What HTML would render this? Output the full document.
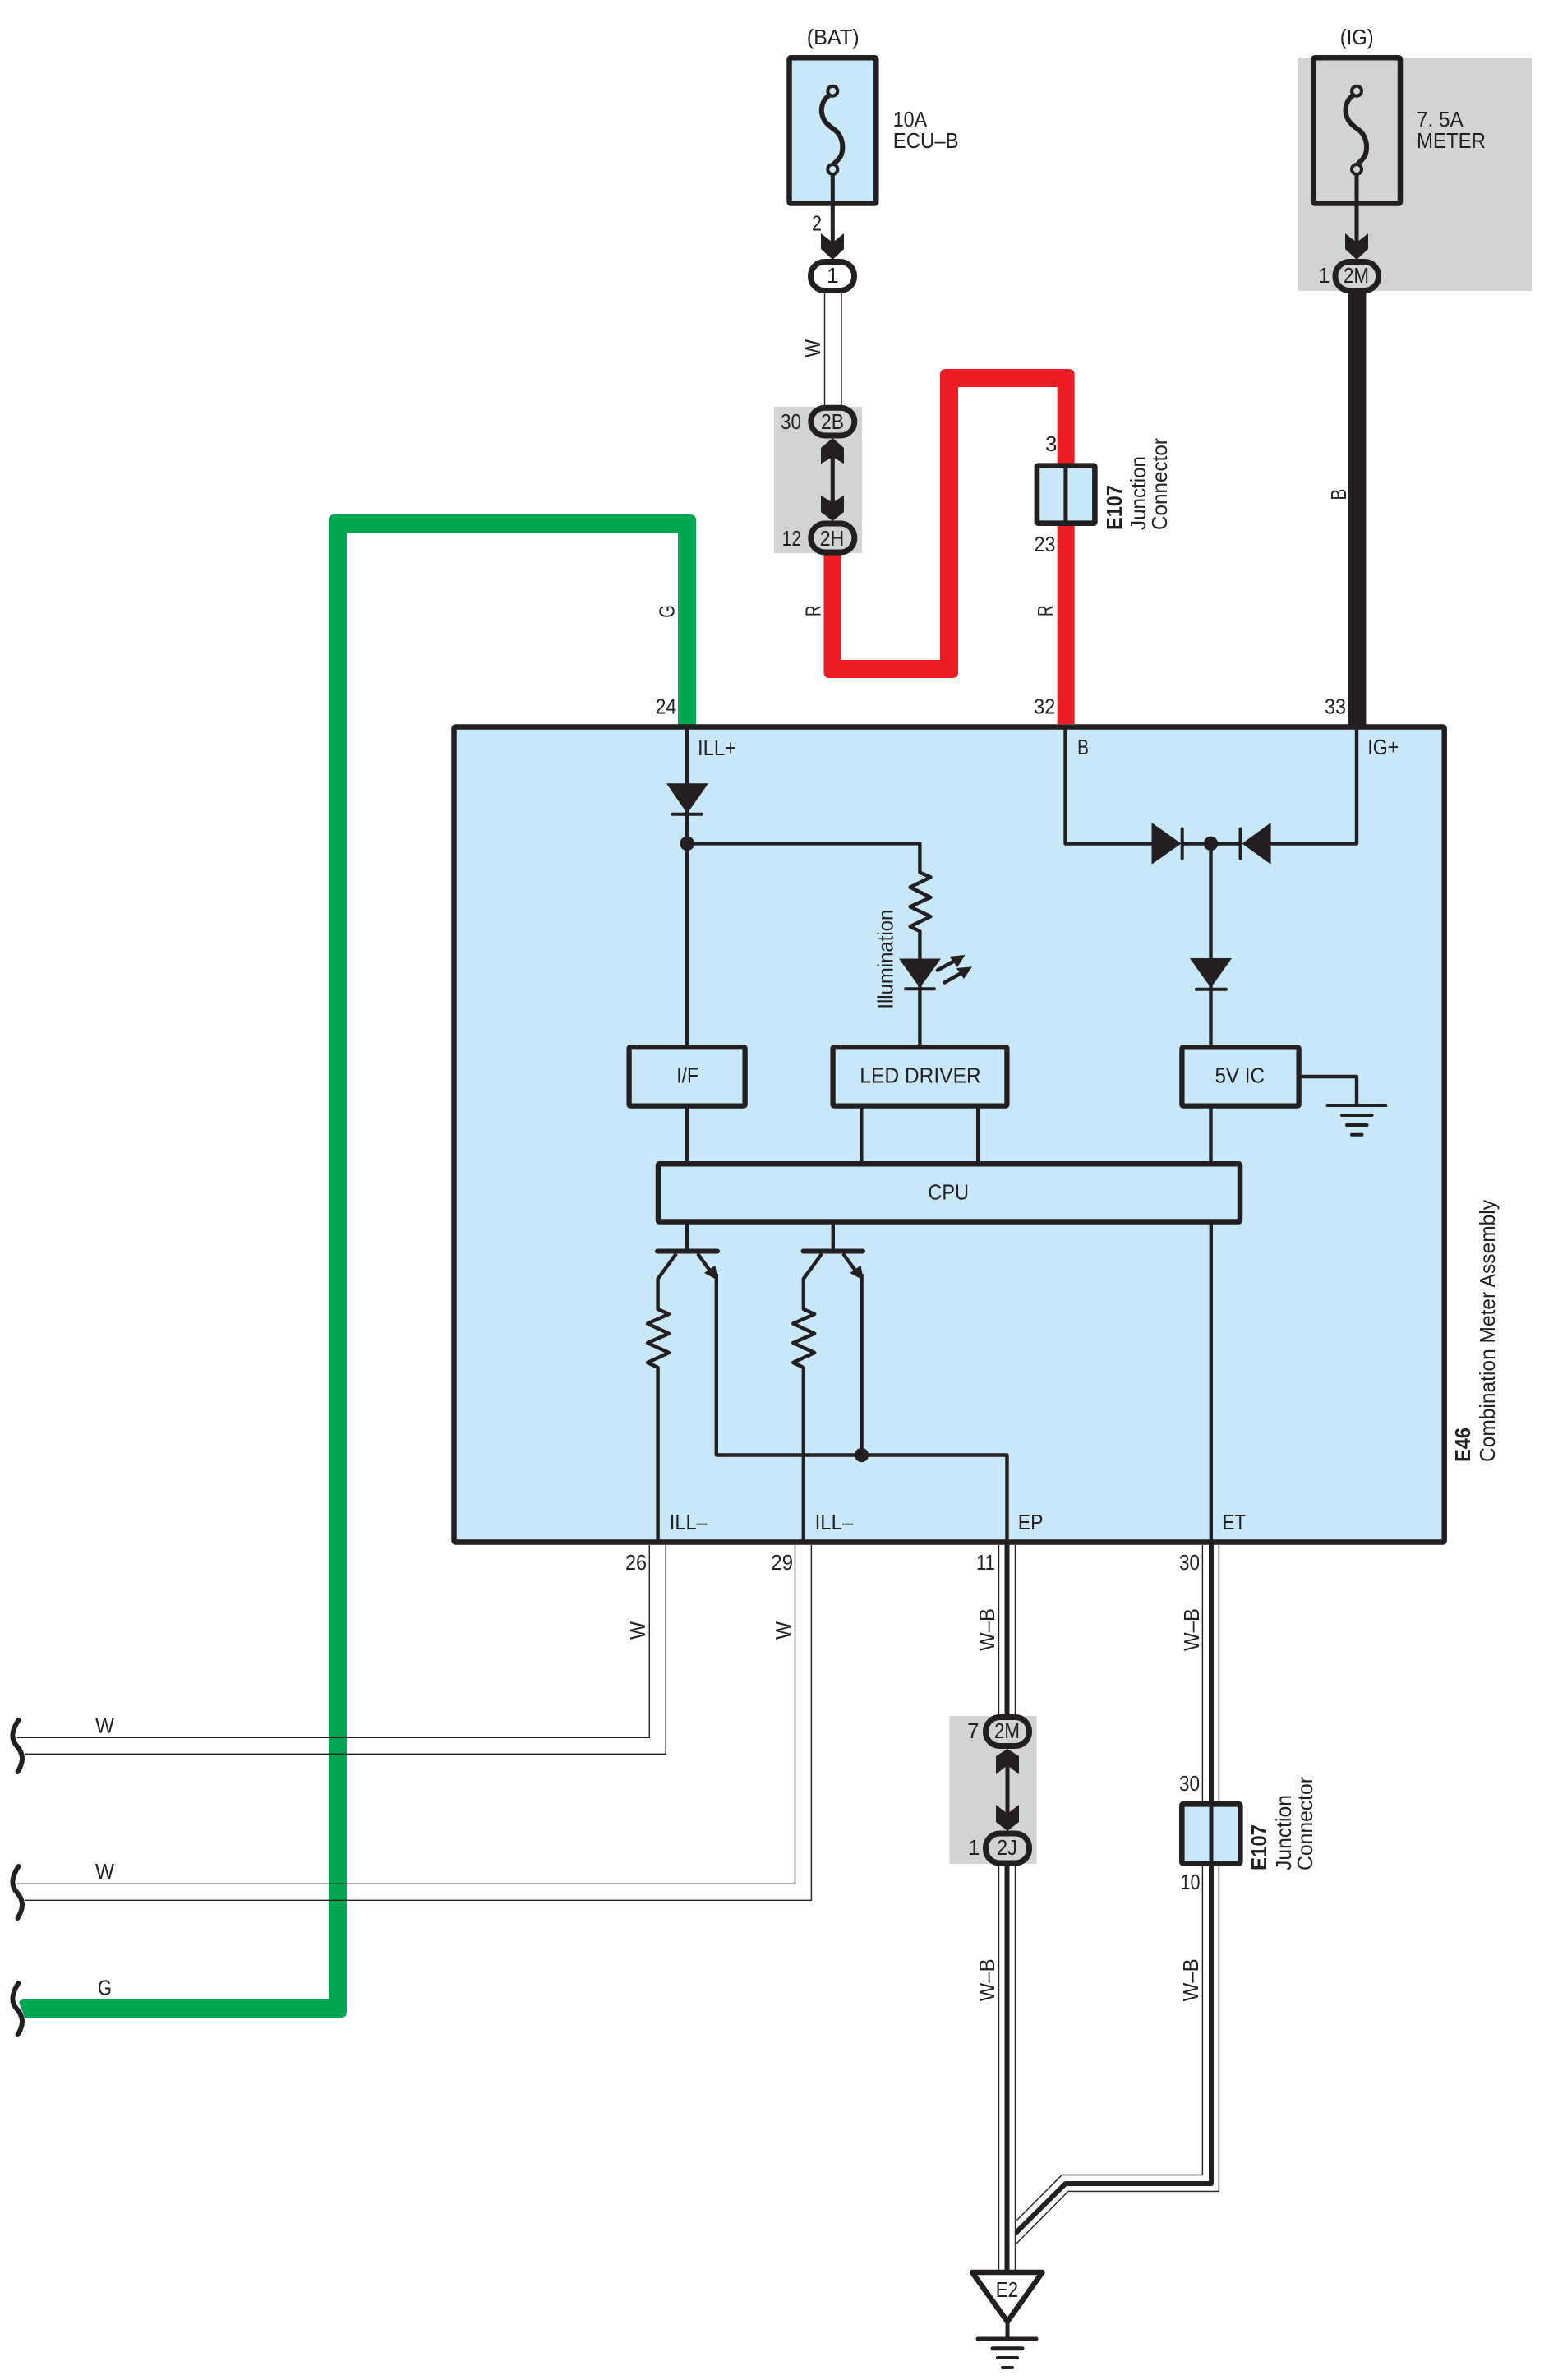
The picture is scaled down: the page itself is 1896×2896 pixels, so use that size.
<!DOCTYPE html>
<html lang="en">
<head>
<meta charset="utf-8">
<title>Combination Meter Assembly wiring diagram</title>
<style>
html,body{margin:0;padding:0;background:#fff;width:1896px;height:2896px;overflow:hidden}
svg{display:block}
text{font-family:"Liberation Sans",sans-serif;font-size:26px;fill:#231f20}
.b{font-weight:bold}
.m{text-anchor:middle}
</style>
</head>
<body>
<svg xmlns="http://www.w3.org/2000/svg" width="1896" height="2896" viewBox="0 0 1896 2896">
<defs>
<clipPath id="cb"><rect x="1237" y="2260" width="300" height="500"/></clipPath>
</defs>
<rect width="1896" height="2896" fill="#fff"/>

<!-- grey areas -->
<rect x="1580" y="70" width="284" height="284" fill="#d1d3d4"/>
<rect x="942" y="495" width="107" height="178" fill="#d1d3d4"/>
<rect x="1155.5" y="2088" width="106" height="180" fill="#d1d3d4"/>

<!-- coloured wires -->
<path fill="#00a651" d="M23,2436Q25,2433 29,2433H400V633Q400,626 407,626H840Q847,626 847,633V882H825V648H422V2448Q422,2455 415,2455H30Z"/>
<path fill="#ed1c24" d="M1002.5,670V818Q1002.5,825 1009.5,825H1159Q1166,825 1166,818V471H1286.7V881H1307.6V456Q1307.6,449 1300.6,449H1151Q1144,449 1144,456V803H1024V670Z"/>
<rect x="1640.5" y="350" width="21.9" height="532" fill="#231f20"/>

<!-- main box -->
<rect x="552.5" y="884.5" width="1205.2" height="992" rx="2" fill="#c8e8fa" stroke="#231f20" stroke-width="6.5"/>

<!-- thin wires -->
<g fill="none" stroke="#231f20" stroke-width="1.4">
<path d="M1003.5,355V495M1024,355V495"/>
<path d="M790.3,1880V2114.3H20.7M810.2,1880V2134.3H30"/>
<path d="M967.5,1880V2292.3H20.7M987.4,1880V2312.3H30"/>
<path d="M1215.5,1880V2090M1235.5,1880V2090M1215.5,2268V2762M1235.5,2268V2762"/>
<path d="M1463.4,1880V2195M1483.4,1880V2195"/>
<path d="M1463.4,2268V2646.5H1292.3L1237,2702M1483.4,2268V2666.4H1300L1237,2730"/>
</g>
<path d="M1474,2268V2657H1296.7L1225,2728" fill="none" stroke="#231f20" stroke-width="6" stroke-linejoin="round" clip-path="url(#cb)"/>
<path d="M1225.5,1876V2095M1225.5,2265V2765M1474,1876V2195" fill="none" stroke="#231f20" stroke-width="6"/>

<!-- fuses -->
<g fill="none" stroke="#231f20">
<rect x="960.5" y="70.2" width="105.8" height="177.3" rx="2" fill="#c8e8fa" stroke-width="6.5"/>
<path stroke-width="6" d="M1009,116C1000,122 997,135 1003,146C1008,154 1014,156 1018,160C1025,167 1027,178 1024,188C1022,194 1014,199 1013,202"/>
<circle cx="1013.3" cy="110.7" r="6" stroke-width="4" fill="#c8e8fa"/>
<circle cx="1013.3" cy="206" r="6" stroke-width="4" fill="#c8e8fa"/>
<path stroke-width="5" d="M1013.3,212V296"/>
</g>
<g fill="none" stroke="#231f20" transform="translate(637.7,0)">
<rect x="960.5" y="70.2" width="105.8" height="177.3" rx="2" fill="#d1d3d4" stroke-width="6.5"/>
<path stroke-width="6" d="M1009,116C1000,122 997,135 1003,146C1008,154 1014,156 1018,160C1025,167 1027,178 1024,188C1022,194 1014,199 1013,202"/>
<circle cx="1013.3" cy="110.7" r="6" stroke-width="4" fill="#d1d3d4"/>
<circle cx="1013.3" cy="206" r="6" stroke-width="4" fill="#d1d3d4"/>
<path stroke-width="5" d="M1013.3,212V296"/>
</g>

<!-- chevrons -->
<g fill="#231f20">
<polygon points="999,284 1013.3,295 1027,284 1027,303 1013.3,316 999,303"/>
<polygon points="1637,284 1651,295 1665,284 1665,303 1651,316 1637,303"/>
<polygon points="1013.3,533 1027,545 1027,564.3 1013.3,556 999,564.3 999,545"/>
<polygon points="1013.3,634 1027,623 1027,602.7 1013.3,611.7 999,602.7 999,623"/>
<polygon points="1226,2128 1240,2137 1240,2159 1226,2148 1212,2159 1212,2137"/>
<polygon points="1226,2228 1240,2217 1240,2196 1226,2207 1212,2196 1212,2217"/>
</g>
<path d="M1013.3,550V615M1226,2145V2210" stroke="#231f20" stroke-width="5" fill="none"/>

<!-- pills -->
<g stroke="#231f20" stroke-width="7">
<rect x="986.5" y="318.5" width="53" height="35" rx="17" fill="#fff"/>
<rect x="1625" y="318.5" width="52.5" height="35" rx="17" fill="#d1d3d4"/>
<rect x="986.8" y="496.2" width="53" height="33.8" rx="16.9" fill="#d1d3d4"/>
<rect x="986.8" y="637" width="53" height="35" rx="17" fill="#d1d3d4"/>
<rect x="1199.5" y="2089.5" width="53" height="35" rx="17" fill="#d1d3d4"/>
<rect x="1199.5" y="2231" width="53" height="36" rx="17" fill="#d1d3d4"/>
</g>

<!-- junction connectors -->
<g stroke="#231f20" fill="#c8e8fa">
<rect x="1261.9" y="566.7" width="70.5" height="70" rx="1.5" stroke-width="6.6"/>
<rect x="1438.3" y="2195.3" width="71" height="72" rx="1.5" stroke-width="6.6"/>
<path d="M1296.9,565V640" stroke-width="5" fill="none"/>
<path d="M1474,2192V2270" stroke-width="5" fill="none"/>
</g>

<!-- internal wiring -->
<g fill="none" stroke="#231f20" stroke-width="4.4" stroke-linejoin="round">
<path d="M836.2,884V1272M836.2,1346V1415"/>
<path d="M836.2,1026.4H1119.4V1061.6L1132.5,1067.4L1107.6,1079.6L1132.5,1091.9L1107.6,1103.3L1132.5,1115.2L1107.6,1127.4L1119.4,1133.2V1274"/>
<path d="M1048.3,1348V1415M1190.2,1348V1415"/>
<path d="M1296.5,884V1026.5H1402M1651,884V1026.5H1546M1438,1026.5H1510"/>
<path d="M1473.5,1026V1274M1473.5,1346V1415M1473.8,1486V1876"/>
<path d="M1583,1310H1651V1345"/>
<path d="M836.2,1488V1522M1013.8,1488V1522"/>
<path d="M823,1525.5L800.6,1556V1593L814,1599L788,1610.5L814,1622.7L788,1634L814,1646L788,1658L800.6,1664V1876"/>
<path d="M1000.2,1525.5L977.8,1556V1593L991.2,1599L965.2,1610.5L991.2,1622.7L965.2,1634L991.2,1646L965.2,1658L977.8,1664V1876"/>
<path d="M849,1525.5L869,1553M1026,1525.5L1046,1553"/>
<path d="M871.8,1550V1770.5H1225.5V1876M1048.6,1550V1770.5"/>
</g>
<g stroke="#231f20" stroke-linecap="round" fill="none">
<path stroke-width="6" d="M800,1522.5H873M977.5,1522.5H1050"/>
<path stroke-width="4" d="M818,990.8H854M1102,1203.2H1137M1456,1203.7H1492M1438.7,1008.5V1044.5M1509.5,1008.5V1044.5"/>
<path stroke-width="4" d="M1615.5,1345H1686.5M1633,1357H1669.5M1639,1369H1663.5M1645,1380.7H1657.5"/>
<path stroke-width="4.5" d="M1141,1180.5L1160,1170M1149.5,1195.5L1168,1185"/>
</g>
<g fill="#231f20">
<polygon points="811,953.3 862,953.3 836.2,990"/>
<polygon points="1094,1166.5 1145,1166.5 1119.4,1202"/>
<polygon points="1447.9,1166 1499,1166 1473.5,1202"/>
<polygon points="1401.5,1001 1401.5,1051.7 1437.5,1026.5"/>
<polygon points="1546.6,1001 1546.6,1051.7 1511.4,1026.5"/>
<polygon points="1174.5,1162 1155.4,1164 1165,1177"/>
<polygon points="1183,1176.4 1163.9,1178 1173,1191"/>
<polygon points="857,1549 870.3,1539.7 873.9,1558"/>
<polygon points="1034.2,1549 1047.5,1539.7 1051,1558"/>
<circle cx="836.2" cy="1026.4" r="8.8"/>
<circle cx="1473.5" cy="1026.5" r="8.7"/>
<circle cx="1048.6" cy="1770.5" r="8.6"/>
</g>

<!-- internal boxes -->
<g fill="#c8e8fa" stroke="#231f20" stroke-width="6.3">
<rect x="765.6" y="1274.2" width="141" height="71.4" rx="1.5"/>
<rect x="1013.6" y="1274.2" width="211.8" height="71.4" rx="1.5"/>
<rect x="1438.4" y="1274.4" width="142.2" height="71.2" rx="1.5"/>
<rect x="801" y="1416.3" width="708" height="70.2" rx="1.5" stroke-width="6.5"/>
</g>

<!-- break marks -->
<g fill="none" stroke="#231f20" stroke-width="6" stroke-linecap="round">
<path d="M22.5,2093C14,2106 13,2116 20,2124C28,2133 30,2142 21.5,2156"/>
<path d="M22.5,2271C14,2284 13,2294 20,2302C28,2311 30,2320 21.5,2334"/>
<path d="M22.5,2413C14,2426 13,2436 20,2444C28,2453 30,2462 21.5,2476"/>
</g>

<!-- E2 ground -->
<polygon points="1183,2765 1268.5,2765 1226,2825" fill="#fff" stroke="#231f20" stroke-width="6.5" stroke-linejoin="round"/>
<g fill="none" stroke="#231f20" stroke-linecap="round">
<path stroke-width="5" d="M1226,2827V2846"/>
<path stroke-width="5" d="M1190,2846H1261M1208,2857.7H1244"/>
<path stroke-width="4" d="M1214,2869H1238M1220,2881H1232"/>
</g>

<!-- labels -->
<text x="981.7" y="54" textLength="64" lengthAdjust="spacingAndGlyphs">(BAT)</text>
<text x="1630.7" y="54" textLength="41" lengthAdjust="spacingAndGlyphs">(IG)</text>
<text x="1086.7" y="154" textLength="41.5" lengthAdjust="spacingAndGlyphs">10A</text>
<text x="1086.7" y="180" textLength="80" lengthAdjust="spacingAndGlyphs">ECU–B</text>
<text x="1724" y="154" textLength="56.7" lengthAdjust="spacingAndGlyphs">7. 5A</text>
<text x="1724" y="180" textLength="84" lengthAdjust="spacingAndGlyphs">METER</text>
<text x="988" y="280.7" textLength="12" lengthAdjust="spacingAndGlyphs">2</text>
<text x="1013.3" y="344" class="m">1</text>
<text x="1604" y="344">1</text>
<text x="1635" y="344" textLength="31" lengthAdjust="spacingAndGlyphs">2M</text>
<text x="950" y="522" textLength="25" lengthAdjust="spacingAndGlyphs">30</text>
<text x="999" y="522" textLength="28" lengthAdjust="spacingAndGlyphs">2B</text>
<text x="951.7" y="664" textLength="23.3" lengthAdjust="spacingAndGlyphs">12</text>
<text x="997.7" y="664" textLength="29.6" lengthAdjust="spacingAndGlyphs">2H</text>
<text x="1272" y="549">3</text>
<text x="1258.6" y="671" textLength="25.7" lengthAdjust="spacingAndGlyphs">23</text>
<text x="797.6" y="868.6" textLength="25.6" lengthAdjust="spacingAndGlyphs">24</text>
<text x="1258" y="868.6" textLength="26.4" lengthAdjust="spacingAndGlyphs">32</text>
<text x="1612" y="868.6" textLength="26" lengthAdjust="spacingAndGlyphs">33</text>
<text x="849" y="919" textLength="47" lengthAdjust="spacingAndGlyphs">ILL+</text>
<text x="1311" y="918" textLength="14" lengthAdjust="spacingAndGlyphs">B</text>
<text x="1664.3" y="918" textLength="38" lengthAdjust="spacingAndGlyphs">IG+</text>
<text x="823.2" y="1317.7" textLength="26.8" lengthAdjust="spacingAndGlyphs">I/F</text>
<text x="1046.3" y="1317.7" textLength="147.4" lengthAdjust="spacingAndGlyphs">LED DRIVER</text>
<text x="1478.5" y="1317.7" textLength="60.5" lengthAdjust="spacingAndGlyphs">5V IC</text>
<text x="1129.4" y="1459.3" textLength="49.6" lengthAdjust="spacingAndGlyphs">CPU</text>
<text x="814.8" y="1861" textLength="46" lengthAdjust="spacingAndGlyphs">ILL–</text>
<text x="991.6" y="1861" textLength="46.7" lengthAdjust="spacingAndGlyphs">ILL–</text>
<text x="1238.8" y="1861" textLength="30.7" lengthAdjust="spacingAndGlyphs">EP</text>
<text x="1487.7" y="1861" textLength="28.3" lengthAdjust="spacingAndGlyphs">ET</text>
<text x="761" y="1910" textLength="26" lengthAdjust="spacingAndGlyphs">26</text>
<text x="938.4" y="1910" textLength="26.6" lengthAdjust="spacingAndGlyphs">29</text>
<text x="1188" y="1910" textLength="23" lengthAdjust="spacingAndGlyphs">11</text>
<text x="1435" y="1910" textLength="25" lengthAdjust="spacingAndGlyphs">30</text>
<text x="1177" y="2115">7</text>
<text x="1210" y="2115" textLength="31" lengthAdjust="spacingAndGlyphs">2M</text>
<text x="1178" y="2257">1</text>
<text x="1213" y="2257" textLength="25" lengthAdjust="spacingAndGlyphs">2J</text>
<text x="1435" y="2179" textLength="25" lengthAdjust="spacingAndGlyphs">30</text>
<text x="1436.5" y="2299" textLength="24" lengthAdjust="spacingAndGlyphs">10</text>
<text x="116" y="2108.3" textLength="23" lengthAdjust="spacingAndGlyphs">W</text>
<text x="116" y="2286" textLength="23" lengthAdjust="spacingAndGlyphs">W</text>
<text x="119" y="2427.7" textLength="17" lengthAdjust="spacingAndGlyphs">G</text>
<text x="1211.7" y="2795" textLength="27.3" lengthAdjust="spacingAndGlyphs">E2</text>

<!-- rotated labels -->
<text transform="translate(998,435) rotate(-90)" textLength="22" lengthAdjust="spacingAndGlyphs">W</text>
<text transform="translate(998.3,750) rotate(-90)" textLength="13.5" lengthAdjust="spacingAndGlyphs">R</text>
<text transform="translate(1281,750) rotate(-90)" textLength="13.5" lengthAdjust="spacingAndGlyphs">R</text>
<text transform="translate(1638,608.6) rotate(-90)" textLength="14" lengthAdjust="spacingAndGlyphs">B</text>
<text transform="translate(820.7,751.7) rotate(-90)" textLength="15.7" lengthAdjust="spacingAndGlyphs">G</text>
<text class="b" transform="translate(1365,645) rotate(-90)" textLength="55" lengthAdjust="spacingAndGlyphs">E107</text>
<text transform="translate(1394,645) rotate(-90)" textLength="90" lengthAdjust="spacingAndGlyphs">Junction</text>
<text transform="translate(1420,645) rotate(-90)" textLength="112" lengthAdjust="spacingAndGlyphs">Connector</text>
<text transform="translate(1086.5,1227.7) rotate(-90)" textLength="121" lengthAdjust="spacingAndGlyphs">Illumination</text>
<text class="b" transform="translate(1789,1779) rotate(-90)" textLength="42" lengthAdjust="spacingAndGlyphs">E46</text>
<text transform="translate(1819,1779) rotate(-90)" textLength="319" lengthAdjust="spacingAndGlyphs">Combination Meter Assembly</text>
<text transform="translate(785,1995) rotate(-90)" textLength="22" lengthAdjust="spacingAndGlyphs">W</text>
<text transform="translate(962,1995) rotate(-90)" textLength="22" lengthAdjust="spacingAndGlyphs">W</text>
<text transform="translate(1210,2009) rotate(-90)" textLength="52" lengthAdjust="spacingAndGlyphs">W–B</text>
<text transform="translate(1459,2009) rotate(-90)" textLength="52" lengthAdjust="spacingAndGlyphs">W–B</text>
<text transform="translate(1210,2435.4) rotate(-90)" textLength="52" lengthAdjust="spacingAndGlyphs">W–B</text>
<text transform="translate(1458,2435.4) rotate(-90)" textLength="52" lengthAdjust="spacingAndGlyphs">W–B</text>
<text class="b" transform="translate(1541,2276) rotate(-90)" textLength="56" lengthAdjust="spacingAndGlyphs">E107</text>
<text transform="translate(1571,2276) rotate(-90)" textLength="92" lengthAdjust="spacingAndGlyphs">Junction</text>
<text transform="translate(1597,2276) rotate(-90)" textLength="114" lengthAdjust="spacingAndGlyphs">Connector</text>
</svg>
</body>
</html>
